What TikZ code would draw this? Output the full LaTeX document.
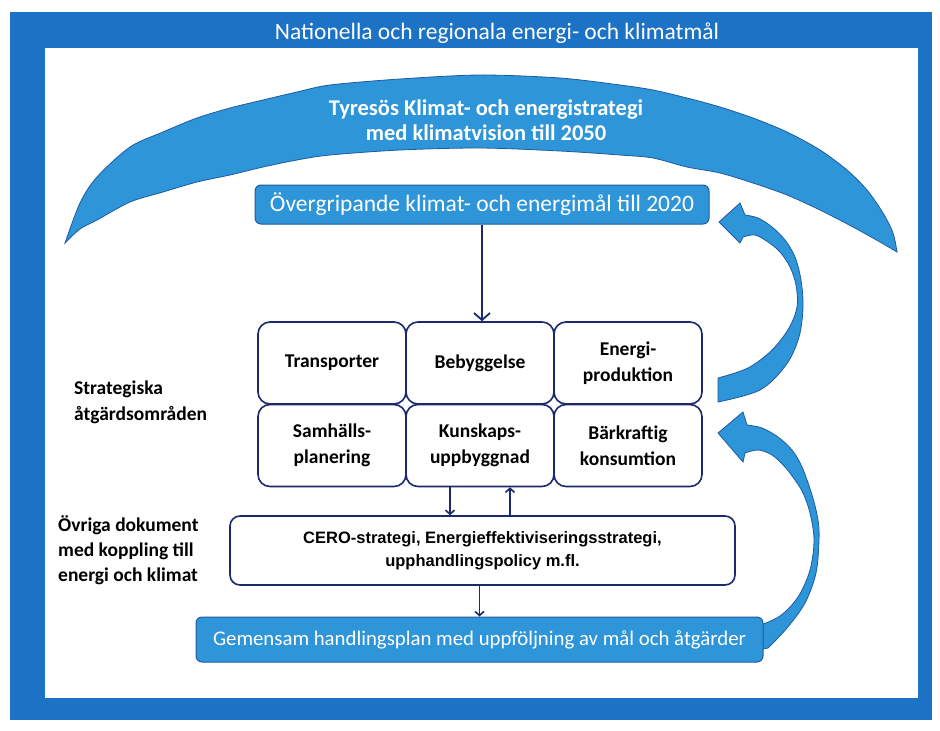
\documentclass[tikz,border=0pt]{standalone}
\usepackage{fontspec}
\setmainfont{Carlito}
\newfontfamily\arialf{Liberation Sans}
\usetikzlibrary{arrows.meta}
\definecolor{frameblue}{HTML}{1C72C4}
\definecolor{lightblue}{HTML}{2E95D9}
\definecolor{edgeblue}{HTML}{1D5BA3}
\definecolor{navy}{HTML}{1B2A6B}
\begin{document}
\begin{tikzpicture}[x=1pt,y=-1pt,
  bluebox/.style={draw=edgeblue, line width=1pt, fill=lightblue, rounded corners=6pt, text=white, inner sep=0pt},
  gridbox/.style={draw=navy, line width=1.6pt, fill=white, rounded corners=12pt, minimum width=148pt, minimum height=82pt, inner sep=0pt, align=center, font=\fontsize{19.5}{25.5}\selectfont\bfseries},
  sidelabel/.style={anchor=west, align=left, inner sep=0pt, font=\fontsize{19.5}{26}\selectfont\bfseries},
  navyarrow/.style={draw=navy, line width=1.8pt, -{Straight Barb[length=7pt,width=16pt,line width=1.8pt]}},
  smallarrow/.style={draw=navy, line width=1.8pt, -{Straight Barb[length=4pt,width=9pt,line width=1.6pt]}},
  shapefill/.style={fill=lightblue, draw=edgeblue, line width=0.8pt}
]
% canvas and frame
\fill[white] (0,0) rectangle (940,731);
\useasboundingbox (0,0) rectangle (940,731);
\fill[frameblue] (10,12) rectangle (932,720);
\fill[white] (45,48) rectangle (918,698);
\node[text=white, font=\fontsize{23.5}{26}\selectfont] (title) at (497,33) {Nationella och regionala energi- och klimatmål};

% crescent
\path[shapefill] plot[smooth, tension=0.5] coordinates {(65,243) (80,203) (97,177) (130,147) (163,132) (197,118) (230,108) (263,100) (297,92) (330,85) (400,79) (480,75) (560,78) (620,85) (653,90) (687,98) (720,107) (753,118) (787,132) (820,150) (847,170) (867,190) (883,213) (893,233) (897,252)}
  -- plot[smooth, tension=0.5] coordinates {(897,252) (880,242) (853,227) (820,210) (787,195) (753,183) (720,173) (687,167) (653,158) (620,155) (560,151) (480,148) (400,150) (330,155) (297,160) (263,167) (230,175) (197,182) (163,192) (130,202) (97,220) (80,229) (65,243)} -- cycle;
\node[text=white, align=center, font=\fontsize{22.5}{25}\selectfont\bfseries] (strat) at (486,120) {Tyresös Klimat- och energistrategi\\med klimatvision till 2050};

% curved arrow 1 (from Energiproduktion up to the 2020 box)
\path[shapefill] plot[smooth, tension=0.55] coordinates {(718,378) (748,368) (772,350) (789,328) (797,307) (796,285) (790,267) (780,252) (768,242) (755,235) (743,237)}
  -- (740,243) -- (719,222) -- (740,203) -- (745,215)
  -- plot[smooth, tension=0.55] coordinates {(745,215) (758,218) (772,227) (785,240) (795,257) (801,280) (803,307) (799,337) (786,365) (760,390) (718,402)} -- cycle;

% curved arrow 2 (from action plan up to Bärkraftig konsumtion)
\path[shapefill] plot[smooth, tension=0.55] coordinates {(758,626) (780,616) (798,597) (810,570) (814,540) (810,513) (803,493) (795,480) (785,467) (772,455) (758,450) (745,453)}
  -- (743,462) -- (718,433) -- (743,412) -- (747,425)
  -- plot[smooth, tension=0.55] coordinates {(747,425) (762,428) (778,437) (792,450) (802,467) (812,495) (818,520) (819,540) (816,573) (805,603) (787,628) (768,648)} -- (758,650) -- cycle;

% top goal box
\node[bluebox, minimum width=454pt, minimum height=39pt, font=\fontsize{23.5}{26}\selectfont] (goal) at (482,204.5) {Övergripande klimat- och energimål till 2020};

% grid of strategic areas
\node[gridbox] (tra) at (332,363) {Transporter};
\node[gridbox] (beb) at (480,363) {Bebyggelse};
\node[gridbox] (ene) at (628,363) {Energi-\\produktion};
\node[gridbox] (sam) at (332,445.5) {Samhälls-\\planering};
\node[gridbox] (kun) at (480,445.5) {Kunskaps-\\uppbyggnad};
\node[gridbox] (bar) at (628,445.5) {Bärkraftig\\konsumtion};

% side labels
\node[sidelabel] (lblstrat) at (74,402) {Strategiska\\åtgärdsområden};
\node[sidelabel, font=\fontsize{19.5}{25}\selectfont\bfseries] (lbldok) at (58,550) {Övriga dokument\\med koppling till\\energi och klimat};

% other documents box
\node[draw=navy, line width=1.6pt, fill=white, rounded corners=10pt, minimum width=505pt, minimum height=69pt, inner sep=0pt, align=center, font=\arialf\fontsize{16.5}{23}\selectfont\bfseries] (cero) at (482.5,550.5) {CERO-strategi, Energieffektiviseringsstrategi,\\upphandlingspolicy m.fl.};

% action plan box
\node[bluebox, minimum width=567pt, minimum height=45pt, font=\fontsize{20.8}{24}\selectfont] (plan) at (479.5,639.5) {Gemensam handlingsplan med uppföljning av mål och åtgärder};

% connectors
\draw[navyarrow] (goal.south) -- (goal.south |- beb.north);
\draw[smallarrow] ([xshift=-30pt]kun.south) -- ([xshift=-30pt]kun.south |- cero.north);
\draw[smallarrow] ([xshift=30pt]kun.south |- cero.north) -- ([xshift=30pt]kun.south);
\draw[smallarrow] (plan.north |- cero.south) -- (plan.north);
\end{tikzpicture}
\end{document}
